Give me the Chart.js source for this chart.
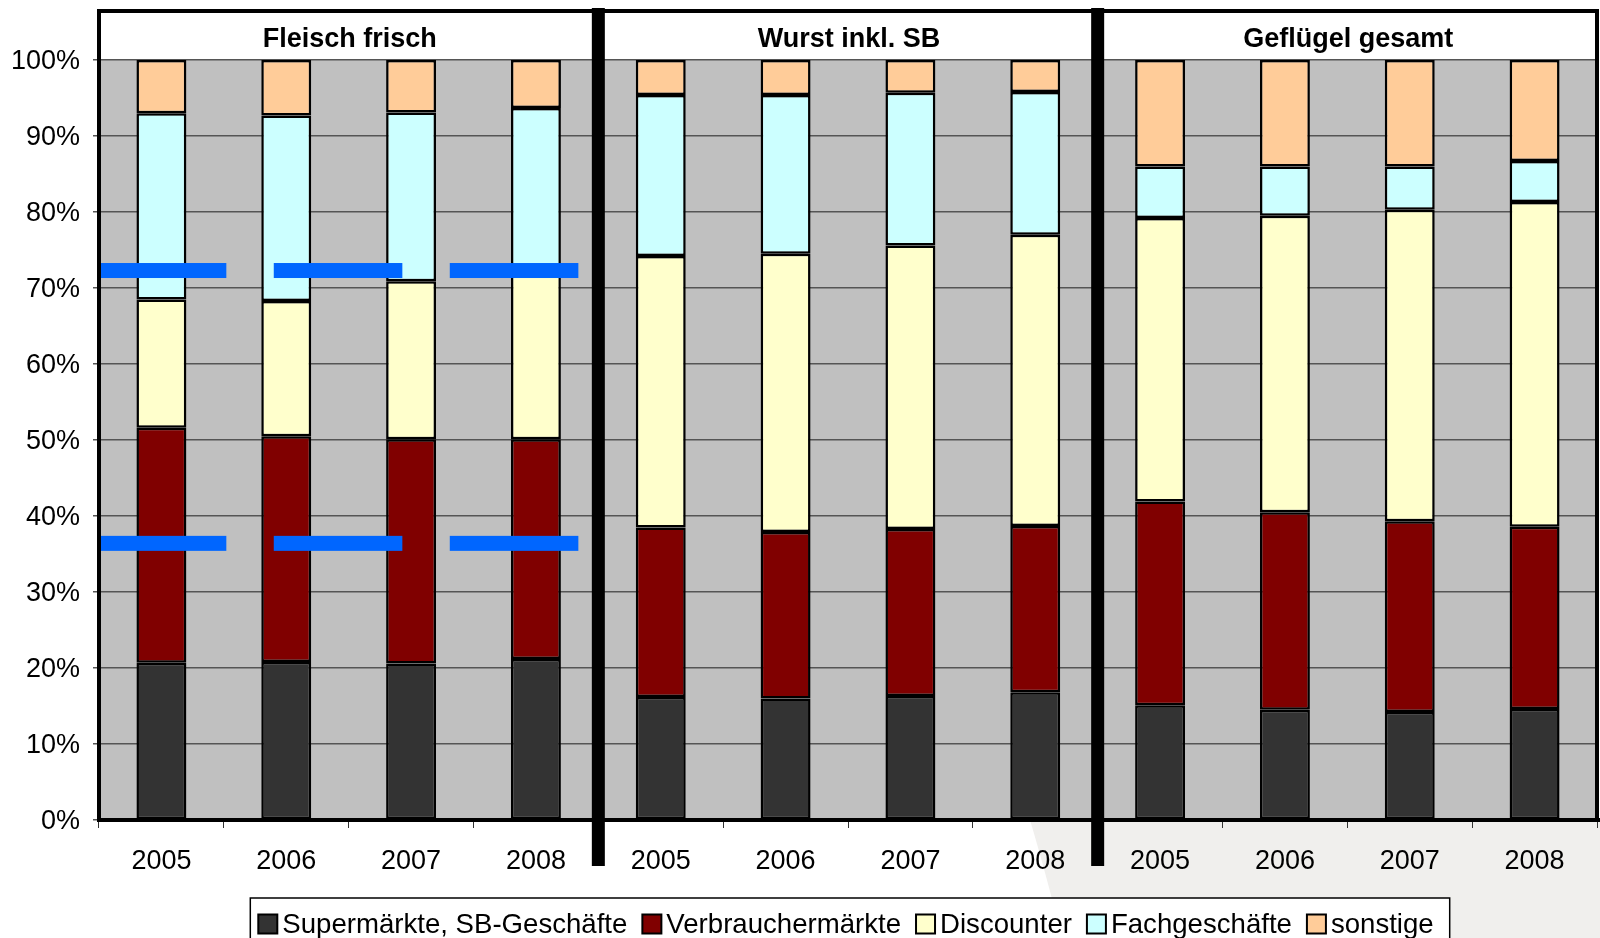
<!DOCTYPE html>
<html>
<head>
<meta charset="utf-8">
<script src="https://cdn.jsdelivr.net/npm/chart.js@4/dist/chart.umd.min.js"></script>
<style>
  html, body { margin: 0; padding: 0; background: #fff; overflow: hidden; }
  canvas { display: block; }
</style>
</head>
<body>
<canvas id="c" width="1600" height="938"></canvas>
<script>
// Panels (product groups) and the years shown in each
const panels = ['Fleisch frisch', 'Wurst inkl. SB', 'Geflügel gesamt'];
const years = ['2005', '2006', '2007', '2008'];
const categories = panels.flatMap(() => years);

// Shares by store type, in percent (4 years per panel)
const supermaerkte       = [20.7, 20.8, 20.6, 21.2,  16.2, 16.0, 16.3, 16.8,  15.1, 14.5, 14.2, 14.6];
const verbrauchermaerkte = [30.9, 29.7, 29.5, 28.9,  22.3, 21.9, 22.0, 21.9,  26.8, 26.0, 25.1, 24.0];
const discounter         = [16.9, 17.8, 20.8, 22.2,  35.7, 36.6, 37.3, 38.3,  37.3, 39.0, 41.0, 42.7];
const fachgeschaefte     = [24.5, 24.4, 22.2, 21.4,  21.2, 20.9, 20.1, 18.8,   6.8,  6.5,  5.7,  5.4];
const sonstige           = [ 7.0,  7.3,  6.9,  6.3,   4.6,  4.6,  4.3,  4.2,  14.0, 14.0, 14.0, 13.3];

const seriesNames = ['Supermärkte, SB-Geschäfte', 'Verbrauchermärkte', 'Discounter', 'Fachgeschäfte', 'sonstige'];
const seriesData = [supermaerkte, verbrauchermaerkte, discounter, fachgeschaefte, sonstige];
const seriesColors = ['#333333', '#800000', '#ffffcc', '#ccffff', '#ffcc99'];

// Y axis ticks
const yTicks = [0, 10, 20, 30, 40, 50, 60, 70, 80, 90, 100];

// Highlight dashes in the first panel: category span (index units) and level (percent)
const highlightFrom  = [-0.5, 0.9, 2.31, -0.5, 0.9, 2.31];
const highlightTo    = [0.52, 1.93, 3.34, 0.52, 1.93, 3.34];
const highlightLevel = [72.3, 72.3, 72.3, 36.4, 36.4, 36.4];

const FONT = 'Arial, "Liberation Sans", sans-serif';

const decor = {
  id: 'decor',
  beforeDraw(chart) {
    const { ctx, chartArea: a } = chart;
    ctx.save();
    ctx.fillStyle = '#ffffff';
    ctx.fillRect(0, 0, chart.width, chart.height);
    // soft grey backdrop at the lower right
    ctx.fillStyle = '#f0efed';
    ctx.beginPath();
    ctx.moveTo(1030, a.bottom);
    ctx.quadraticCurveTo(1045, 870, 1062, chart.height);
    ctx.lineTo(chart.width, chart.height);
    ctx.lineTo(chart.width, a.bottom);
    ctx.closePath();
    ctx.fill();
    // plot background
    ctx.fillStyle = '#c0c0c0';
    ctx.fillRect(a.left, a.top, a.right - a.left, a.bottom - a.top);
    ctx.restore();
  },
  afterDraw(chart) {
    const { ctx, chartArea: a } = chart;
    const xs = chart.scales.x, ys = chart.scales.y;
    const p0 = xs.getPixelForValue(0);
    const band = xs.getPixelForValue(1) - p0;
    const px = i => p0 + i * band;
    ctx.save();

    // blue highlight dashes
    ctx.fillStyle = '#0066ff';
    highlightLevel.forEach((lv, k) => {
      const y = ys.getPixelForValue(lv);
      const x1 = px(highlightFrom[k]), x2 = px(highlightTo[k]);
      ctx.fillRect(x1, y - 7.5, x2 - x1, 15);
    });

    // outer frame and header
    ctx.strokeStyle = '#000';
    ctx.lineWidth = 4;
    ctx.beginPath();
    ctx.moveTo(a.left, 11); ctx.lineTo(a.left, a.bottom);
    ctx.moveTo(a.left - 2, 11); ctx.lineTo(a.right + 2, 11);
    ctx.moveTo(a.right, 11); ctx.lineTo(a.right, a.bottom);
    ctx.moveTo(a.left - 2, a.bottom); ctx.lineTo(chart.width, a.bottom);
    ctx.stroke();

    // panel separators
    const per = years.length;
    ctx.fillStyle = '#000';
    for (let p = 1; p < panels.length; p++) {
      const sx = px(p * per - 0.5);
      ctx.fillRect(sx - 6.5, 8, 13, 866 - 8);
    }

    // panel titles
    ctx.font = 'bold 27px ' + FONT;
    ctx.textAlign = 'center';
    ctx.textBaseline = 'middle';
    panels.forEach((name, p) => {
      const l = p === 0 ? a.left : px(p * per - 0.5);
      const r = p === panels.length - 1 ? a.right : px((p + 1) * per - 0.5);
      ctx.fillText(name, (l + r) / 2 + 1, 40);
    });

    // legend
    ctx.font = '27.6px ' + FONT;
    ctx.textAlign = 'left';
    const sw = 19, gapT = 5, gapI = 15, pad = 8;
    const widths = seriesNames.map(n => ctx.measureText(n).width);
    const total = widths.reduce((s, w) => s + sw + gapT + w, 0) + gapI * (seriesNames.length - 1);
    const boxL = 850 - total / 2 - pad - 4;
    const boxR = 850 + total / 2 + pad + 4;
    const ly = 924;
    ctx.lineWidth = 1.5;
    ctx.strokeStyle = '#000';
    ctx.fillStyle = '#fff';
    ctx.fillRect(boxL, 898, boxR - boxL, 60);
    ctx.strokeRect(boxL, 898, boxR - boxL, 60);
    let x = boxL + pad;
    seriesNames.forEach((n, i) => {
      ctx.fillStyle = seriesColors[i];
      ctx.fillRect(x, ly - sw / 2, sw, sw);
      ctx.lineWidth = 2;
      ctx.strokeRect(x, ly - sw / 2, sw, sw);
      ctx.fillStyle = '#000';
      ctx.fillText(n, x + sw + gapT, ly + 1);
      x += sw + gapT + widths[i] + gapI;
    });
    ctx.restore();
  }
};

new Chart(document.getElementById('c'), {
  type: 'bar',
  data: {
    labels: categories,
    datasets: seriesNames.map((name, i) => ({
      label: name,
      data: seriesData[i],
      backgroundColor: seriesColors[i],
      borderColor: '#000',
      borderWidth: 2.5,
      borderSkipped: false,
      barPercentage: 0.4,
      categoryPercentage: 1.0
    }))
  },
  options: {
    responsive: false,
    animation: false,
    devicePixelRatio: 1,
    layout: { padding: { top: 60, right: 3, left: 0, bottom: 0 } },
    plugins: { legend: { display: false }, tooltip: { enabled: false } },
    scales: {
      x: {
        stacked: true,
        offset: true,
        grid: { offset: true, drawOnChartArea: false, drawTicks: true, tickLength: 8, color: '#333', lineWidth: 1 },
        border: { color: '#000', width: 4 },
        ticks: { color: '#000', font: { family: FONT, size: 27 }, padding: 17, maxRotation: 0, autoSkip: false },
        afterFit(s) { s.height = 118; }
      },
      y: {
        stacked: true,
        min: 0,
        max: 100,
        afterBuildTicks(s) { s.ticks = yTicks.map(v => ({ value: v })); },
        grid: { color: '#555555', lineWidth: 1.5, tickLength: 6 },
        border: { color: '#000', width: 4 },
        ticks: { color: '#000', font: { family: FONT, size: 27 }, padding: 13, labelOffset: 2, callback: v => v + '%' },
        afterFit(s) { s.width = 99; }
      }
    }
  },
  plugins: [decor]
});
</script>
</body>
</html>
